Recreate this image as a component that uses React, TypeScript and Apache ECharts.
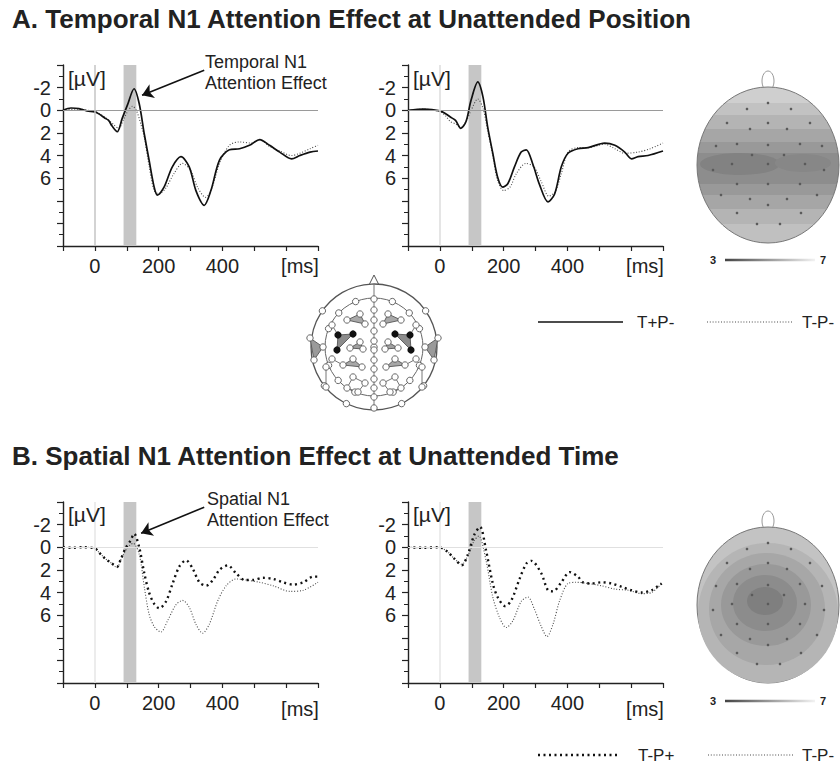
import React, { useEffect, useRef } from "react";
import * as echarts from "echarts";

const FONT = "'Liberation Sans', Arial, Helvetica, sans-serif";

// ---- axes ----
const xMin = -100;
const xMax = 700;
const xStep = 100;
const xLabelsShown = [0, 200, 400];
const yMin = -4;
const yMax = 12;
const yStep = 2;
const yLabelsShown = [-2, 0, 2, 4, 6];
const attnWindow = [90, 130];

const titles = [
  "A. Temporal N1 Attention Effect at Unattended Position",
  "B. Spatial N1 Attention Effect at Unattended Time",
];
const legendA = ["T+P-", "T-P-"];
const legendB = ["T-P+", "T-P-"];
const colorbarLabels = ["3", "7"];

// ---- A left (ms / µV) ----
const aLeftSolidT = [-100, -75, -50, -25, 0, 11, 32, 43, 54, 70, 86, 102, 123, 139, 155, 170, 186, 196, 217, 243, 270, 296, 317, 343, 364, 391, 422, 454, 485, 517, 548, 580, 617, 643, 675, 700];
const aLeftSolidV = [0, -0.2, -0.15, 0.05, 0.15, 0.3, 0.7, 0.9, 1.4, 1.9, 0.7, -0.45, -1.9, -0.6, 2.1, 4.4, 6.8, 7.5, 6.8, 5.0, 4.1, 5.0, 7.1, 8.4, 7.1, 4.4, 3.5, 3.4, 3.1, 2.6, 3.1, 3.7, 4.3, 4.0, 3.7, 3.6];
const aLeftDotT = [-100, -50, 0, 20, 40, 60, 75, 90, 105, 118, 130, 145, 155, 170, 186, 201, 222, 248, 275, 300, 322, 347, 368, 391, 422, 454, 490, 517, 548, 580, 617, 643, 675, 700];
const aLeftDotV = [0, -0.1, 0.15, 0.4, 0.8, 1.3, 1.6, 0.8, 0, -0.35, 0, 1.3, 2.4, 4.9, 7.1, 7.4, 6.9, 5.6, 4.7, 5.3, 6.8, 7.7, 6.8, 4.7, 3.1, 2.8, 2.9, 2.6, 3.2, 3.6, 4.0, 3.8, 3.4, 3.1];

// ---- A middle ----
const aMidSolidT = [-100, -50, 0, 18, 33, 49, 66, 82, 98, 119, 135, 150, 166, 181, 197, 213, 234, 255, 271, 292, 313, 339, 360, 381, 402, 433, 465, 517, 549, 580, 601, 622, 653, 700];
const aMidSolidV = [0, -0.1, 0.05, 0.3, 0.6, 0.9, 1.6, 1.0, -0.9, -2.5, -1.2, 1.5, 3.8, 5.9, 6.8, 6.5, 5.0, 3.7, 3.5, 4.8, 6.6, 8.1, 7.4, 5.0, 3.8, 3.4, 3.3, 2.9, 3.1, 3.7, 4.3, 4.1, 4.0, 3.6];
const aMidDotT = [-100, -50, 0, 18, 33, 49, 66, 82, 98, 119, 135, 150, 166, 181, 200, 220, 240, 270, 295, 318, 342, 362, 381, 402, 433, 465, 517, 549, 580, 622, 660, 700];
const aMidDotV = [0, -0.1, 0.1, 0.5, 1.0, 1.2, 1.5, 1.0, 0, -1.0, -0.2, 1.8, 4.0, 6.2, 7.1, 6.8, 5.6, 4.7, 5.0, 6.3, 7.6, 7.2, 5.6, 3.7, 3.3, 3.3, 3.0, 3.4, 3.8, 3.7, 3.4, 2.9];

// ---- B left ----
const bLeftHeavyT = [-100, -70, -40, 0, 11, 32, 47, 70, 80, 96, 112, 123, 139, 155, 170, 186, 202, 223, 244, 265, 286, 307, 328, 349, 370, 391, 417, 443, 470, 496, 527, 559, 590, 622, 654, 685, 700];
const bLeftHeavyV = [0, 0.05, 0, 0.1, 0.4, 1.0, 1.3, 1.7, 1.15, 0.1, -0.6, -1.2, 0, 2.3, 4.0, 5.0, 5.4, 4.8, 3.2, 1.7, 1.15, 1.9, 3.1, 3.4, 2.9, 2.0, 1.6, 2.3, 2.9, 2.9, 2.7, 2.8, 3.1, 3.3, 3.1, 2.6, 2.6];
const bLeftThinT = [-100, -70, -40, 0, 11, 32, 47, 70, 80, 96, 110, 120, 139, 155, 170, 186, 207, 228, 254, 275, 296, 317, 338, 359, 386, 412, 443, 475, 517, 559, 612, 654, 700];
const bLeftThinV = [0, 0.05, 0, 0.1, 0.4, 1.0, 1.3, 1.8, 1.2, 0.3, -0.2, -0.35, 0.6, 3.5, 5.9, 7.0, 7.5, 6.5, 5.1, 4.7, 5.3, 6.8, 7.6, 6.8, 4.7, 3.4, 2.8, 2.9, 3.1, 3.4, 3.9, 3.8, 3.1];

// ---- B middle ----
const bMidHeavyT = [-100, -50, -3, 24, 45, 69, 87, 108, 126, 145, 166, 181, 205, 224, 250, 271, 287, 318, 339, 355, 381, 407, 433, 449, 475, 507, 538, 570, 601, 633, 664, 696];
const bMidHeavyV = [0, 0.05, 0, 0.4, 1.0, 1.6, 0.7, -1.1, -1.8, 0.3, 3.2, 4.4, 5.2, 4.7, 2.8, 1.45, 1.2, 2.3, 3.8, 3.9, 3.1, 2.2, 2.6, 3.1, 3.2, 3.1, 3.2, 3.5, 3.8, 4.0, 3.8, 3.2];
const bMidThinT = [-100, -50, -3, 24, 45, 69, 87, 108, 122, 145, 166, 187, 208, 229, 255, 276, 297, 318, 336, 355, 376, 402, 428, 465, 507, 549, 591, 633, 664, 696];
const bMidThinV = [0, 0.05, 0, 0.4, 1.0, 1.5, 0.8, -0.6, -1.0, 1.2, 4.4, 6.2, 7.1, 6.5, 4.8, 4.4, 5.5, 7.0, 7.9, 6.8, 4.7, 3.2, 3.1, 3.2, 3.4, 3.7, 3.8, 4.1, 4.0, 3.2];

// ---- layout ----
const grids = [
  { left: 63, top: 65, width: 255, height: 181 },
  { left: 408, top: 65, width: 255, height: 181 },
  { left: 63, top: 502, width: 255, height: 181 },
  { left: 408, top: 502, width: 255, height: 181 },
];

const AXIS_COLOR = "#222";

function xAxisFor(gi: number) {
  return {
    type: "value",
    gridIndex: gi,
    min: xMin,
    max: xMax,
    interval: xStep,
    axisLine: { onZero: false, lineStyle: { color: AXIS_COLOR, width: 1.4 } },
    axisTick: { length: 5, lineStyle: { color: AXIS_COLOR, width: 1.2 } },
    axisLabel: {
      fontSize: 20,
      color: "#222",
      fontFamily: FONT,
      margin: 10,
      formatter: (v: number) => (xLabelsShown.includes(v) ? String(v) : ""),
    },
    splitLine: { show: false },
  };
}

function yAxisFor(gi: number) {
  return {
    type: "value",
    gridIndex: gi,
    inverse: true,
    min: yMin,
    max: yMax,
    interval: yStep,
    axisLine: { onZero: false, lineStyle: { color: AXIS_COLOR, width: 1.4 } },
    axisTick: { length: 6, lineStyle: { color: AXIS_COLOR, width: 1.2 } },
    minorTick: { show: true, splitNumber: 2, length: 4, lineStyle: { color: AXIS_COLOR, width: 1 } },
    axisLabel: {
      fontSize: 20,
      color: "#222",
      fontFamily: FONT,
      margin: 12,
      formatter: (v: number) => (yLabelsShown.includes(v) ? String(v) : ""),
    },
    splitLine: { show: false },
    minorSplitLine: { show: false },
  };
}

const solidStyle = { color: "#111", width: 1.7, type: "solid" };
const thinDotStyle = { color: "#4a4a4a", width: 1.1, type: [1, 1.8] };
const heavyDotStyle = { color: "#111", width: 2.4, type: [2, 3.5] };

function pairs(t: number[], v: number[]) {
  return t.map((x, i) => [x, v[i]]);
}

function lineSeries(name: string, t: number[], v: number[], gi: number, style: any, z: number) {
  return {
    name,
    type: "line",
    xAxisIndex: gi,
    yAxisIndex: gi,
    data: pairs(t, v),
    symbol: "none",
    smooth: 0.3,
    lineStyle: style,
    itemStyle: { color: style.color },
    z,
  };
}

function bgSeries(gi: number, hColor: string, vColor: string) {
  return {
    name: "_bg" + gi,
    type: "line",
    xAxisIndex: gi,
    yAxisIndex: gi,
    data: [],
    z: 1,
    silent: true,
    markArea: {
      silent: true,
      itemStyle: { color: "#c6c6c6" },
      data: [[{ xAxis: attnWindow[0] }, { xAxis: attnWindow[1] }]],
    },
    markLine: {
      silent: true,
      symbol: "none",
      label: { show: false },
      data: [
        { yAxis: 0, lineStyle: { color: hColor, width: 1.2, type: "solid" } },
        { xAxis: 0, lineStyle: { color: vColor, width: 1.5, type: "solid" } },
      ],
    },
  };
}

function arrowSeries(gi: number, from: number[], to: number[]) {
  return {
    name: "_arrow" + gi,
    type: "line",
    xAxisIndex: gi,
    yAxisIndex: gi,
    data: [],
    z: 5,
    silent: true,
    markLine: {
      silent: true,
      symbol: ["none", "arrow"],
      symbolSize: 11,
      label: { show: false },
      lineStyle: { color: "#111", width: 1.6, type: "solid" },
      data: [[{ coord: from }, { coord: to }]],
    },
  };
}

// ---- graphic helpers ----
function txt(text: string, x: number, y: number, size: number, opts: any = {}) {
  const align = opts.align || "left";
  const valign = opts.valign || "middle";
  return {
    type: "text",
    x,
    y,
    silent: true,
    z: 10,
    style: {
      text,
      font: `${opts.weight || "normal"} ${size}px ${FONT}`,
      fill: opts.fill || "#222",
      textAlign: align,
      align,
      textVerticalAlign: valign,
      verticalAlign: valign,
      lineHeight: opts.lh,
    },
  };
}

function legendLine(x1: number, x2: number, y: number, style: any) {
  return {
    type: "line",
    silent: true,
    shape: { x1, y1: y, x2, y2: y },
    style: { stroke: style.color, lineWidth: style.width, lineDash: style.type === "solid" ? null : style.type },
  };
}

const topoDots = [[-21, -56], [0, -62], [23, -56], [-41, -42], [-18, -36], [0, -42], [19, -36], [42, -42], [-52, -19], [-31, -21], [0, -20], [32, -21], [54, -19], [-36, -1], [-16, -10], [0, -1], [16, -10], [37, -1], [-55, 5], [56, 5], [-31, 19], [0, 19], [32, 19], [-47, 30], [-18, 34], [0, 40], [19, 34], [49, 30], [-31, 48], [-11, 59], [12, 59], [33, 48]];

function topoMap(cx: number, cy: number, kind: "A" | "B", barY: number) {
  const els: any[] = [];
  els.push({ type: "ellipse", shape: { cx, cy: cy - 84, rx: 6, ry: 10 }, style: { fill: "#fff", stroke: "#999", lineWidth: 1 }, silent: true });
  if (kind === "A") {
    const stops = [
      [0, "#cfcfcf"], [0.1, "#cfcfcf"], [0.1, "#c2c2c2"], [0.18, "#c2c2c2"], [0.18, "#b4b4b4"], [0.27, "#b4b4b4"],
      [0.27, "#a6a6a6"], [0.35, "#a6a6a6"], [0.35, "#999999"], [0.42, "#999999"], [0.42, "#8d8d8d"], [0.62, "#8d8d8d"],
      [0.62, "#999999"], [0.69, "#999999"], [0.69, "#a6a6a6"], [0.78, "#a6a6a6"], [0.78, "#b4b4b4"], [0.88, "#b4b4b4"],
      [0.88, "#c0c0c0"], [1, "#c0c0c0"],
    ].map(([o, c]) => ({ offset: o as number, color: c as string }));
    els.push({ type: "ellipse", shape: { cx, cy, rx: 71, ry: 78 }, style: { fill: new echarts.graphic.LinearGradient(0, 0, 0, 1, stops), stroke: "#777", lineWidth: 1 }, silent: true });
    els.push({ type: "ellipse", shape: { cx: cx - 28, cy: cy - 1, rx: 40, ry: 11 }, style: { fill: "#828282" }, silent: true });
    els.push({ type: "ellipse", shape: { cx: cx + 35, cy: cy - 2, rx: 28, ry: 9 }, style: { fill: "#878787" }, silent: true });
  } else {
    els.push({ type: "ellipse", shape: { cx, cy, rx: 71, ry: 78 }, style: { fill: "#c3c3c3", stroke: "#777", lineWidth: 1 }, silent: true });
    const rings = [
      [0, 8, 70, 70, "#b5b5b5"],
      [-1, 4, 58, 56, "#a7a7a7"],
      [-2, 0, 45, 41, "#999999"],
      [-3, -2, 32, 28, "#8c8c8c"],
      [-3, -4, 18, 14, "#7f7f7f"],
    ];
    rings.forEach(([dx, dy, rx, ry, c]) => {
      els.push({ type: "ellipse", shape: { cx: cx + (dx as number), cy: cy + (dy as number), rx, ry }, style: { fill: c }, silent: true });
    });
  }
  topoDots.forEach(([dx, dy]) => {
    els.push({ type: "circle", shape: { cx: cx + dx, cy: cy + dy, r: 1.3 }, style: { fill: "#5a5a5a" }, silent: true });
  });
  els.push({
    type: "rect",
    shape: { x: 725, y: barY - 1.2, width: 90, height: 2.4 },
    style: { fill: new echarts.graphic.LinearGradient(0, 0, 1, 0, [{ offset: 0, color: "#444" }, { offset: 1, color: "#f2f2f2" }]) },
    silent: true,
  });
  els.push(txt(colorbarLabels[0], 713, barY, 11, { align: "center", weight: "bold" }));
  els.push(txt(colorbarLabels[1], 823, barY, 11, { align: "center", weight: "bold" }));
  return els;
}

function electrodeHead(cx: number, cy: number) {
  const els: any[] = [];
  const P = (p: number[]) => [cx + p[0], cy + p[1]];
  const mir = (p: number[]) => [-p[0], p[1]];
  els.push({ type: "polygon", shape: { points: [P([-5, -62]), P([0, -72]), P([5, -62])] }, style: { fill: "#fff", stroke: "#555", lineWidth: 1 }, silent: true });
  els.push({ type: "circle", shape: { cx, cy, r: 63 }, style: { fill: "#fff", stroke: "#555", lineWidth: 1.3 }, silent: true });
  els.push({ type: "circle", shape: { cx, cy, r: 49 }, style: { fill: "none", stroke: "#666", lineWidth: 1 }, silent: true });
  els.push({ type: "line", shape: { x1: cx, y1: cy - 63, x2: cx, y2: cy + 63 }, style: { stroke: "#777", lineWidth: 1 }, silent: true });

  const triL = [
    { pts: [[-27, -27], [-14, -33], [-9, -23]], fill: "#a8a8a8" },
    { pts: [[-36, -12], [-21, -13], [-37, 3]], fill: "#8c8c8c" },
    { pts: [[-24, 1], [-14, -5], [-11, 2]], fill: "#a0a0a0" },
    { pts: [[-64, -9], [-51, 0], [-60, 13]], fill: "#9a9a9a" },
    { pts: [[-31, 18], [-21, 12], [-12, 20]], fill: "#a8a8a8" },
  ];
  const linksL = [
    [[-21, 30], [-9, 36], [-16, 45], [-27, 41], [-21, 30]],
    [[-48, 20], [-48, 40]],
    [[-42, -22], [-36, -12]],
    [[-31, 18], [-42, 12]],
  ];
  const whiteL = [[-27, -27], [-14, -33], [-9, -23], [-24, 1], [-14, -5], [-11, 2], [-31, 18], [-21, 12], [-12, 20], [-21, 30], [-9, 36], [-16, 45], [-27, 41], [-64, -9], [-51, 0], [-60, 13], [-48, 20], [-48, 40], [-42, -22], [-42, 12]];
  const blackL = [[-36, -12], [-21, -13], [-37, 3]];
  const outerAng = [55, 128, 154];
  const innerAng = [22, 46, 68, 112, 133, 157];

  [1, -1].forEach((side) => {
    const S = (p: number[]) => (side === 1 ? p : mir(p));
    triL.forEach((t) => {
      els.push({ type: "polygon", shape: { points: t.pts.map((p) => P(S(p))) }, style: { fill: t.fill, stroke: "#555", lineWidth: 0.9 }, silent: true });
    });
    linksL.forEach((l) => {
      els.push({ type: "polyline", shape: { points: l.map((p) => P(S(p))) }, style: { stroke: "#666", lineWidth: 0.9, fill: "none" }, silent: true });
    });
  });
  const white: number[][] = [];
  [0, -48, -37, -27, -16, -6, 3, 13, 22, 32, 41, 50, 61].forEach((dy) => white.push([0, dy]));
  outerAng.forEach((a) => {
    const r = (a * Math.PI) / 180;
    white.push([63 * Math.sin(r), -63 * Math.cos(r)]);
    white.push([-63 * Math.sin(r), -63 * Math.cos(r)]);
  });
  innerAng.forEach((a) => {
    const r = (a * Math.PI) / 180;
    white.push([49 * Math.sin(r), -49 * Math.cos(r)]);
    white.push([-49 * Math.sin(r), -49 * Math.cos(r)]);
  });
  whiteL.forEach((p) => {
    white.push(p);
    white.push(mir(p));
  });
  white.forEach((p) => {
    const q = P(p);
    els.push({ type: "circle", shape: { cx: q[0], cy: q[1], r: 3.2 }, style: { fill: "#fff", stroke: "#555", lineWidth: 0.9 }, silent: true });
  });
  blackL.forEach((p) => {
    [p, mir(p)].forEach((pp) => {
      const q = P(pp);
      els.push({ type: "circle", shape: { cx: q[0], cy: q[1], r: 3.6 }, style: { fill: "#111" }, silent: true });
    });
  });
  return els;
}

function buildOption() {
  const series = [
    bgSeries(0, "#9a9a9a", "#c4c4c4"),
    lineSeries("T-P-", aLeftDotT, aLeftDotV, 0, thinDotStyle, 2),
    lineSeries("T+P-", aLeftSolidT, aLeftSolidV, 0, solidStyle, 3),
    arrowSeries(0, [343, -3.54], [148, -1.33]),
    bgSeries(1, "#9a9a9a", "#dcdcdc"),
    lineSeries("T-P-", aMidDotT, aMidDotV, 1, thinDotStyle, 2),
    lineSeries("T+P-", aMidSolidT, aMidSolidV, 1, solidStyle, 3),
    bgSeries(2, "#e0e0e0", "#e6e6e6"),
    lineSeries("T-P-", bLeftThinT, bLeftThinV, 2, thinDotStyle, 2),
    lineSeries("T-P+", bLeftHeavyT, bLeftHeavyV, 2, heavyDotStyle, 3),
    arrowSeries(2, [343, -3.54], [145, -1.24]),
    bgSeries(3, "#e0e0e0", "#e6e6e6"),
    lineSeries("T-P-", bMidThinT, bMidThinV, 3, thinDotStyle, 2),
    lineSeries("T-P+", bMidHeavyT, bMidHeavyV, 3, heavyDotStyle, 3),
  ];

  const graphic: any[] = [
    txt("[µV]", 68, 78, 21),
    txt("[µV]", 413, 78, 21),
    txt("[µV]", 68, 514, 21),
    txt("[µV]", 413, 514, 21),
    txt("[ms]", 300, 266, 20, { align: "center" }),
    txt("[ms]", 645, 266, 20, { align: "center" }),
    txt("[ms]", 300, 709, 20, { align: "center" }),
    txt("[ms]", 645, 709, 20, { align: "center" }),
    txt("Temporal N1\nAttention Effect", 205, 51, 18, { valign: "top", lh: 21 }),
    txt("Spatial N1\nAttention Effect", 207, 488, 18, { valign: "top", lh: 21 }),
    // legend A
    legendLine(538, 623, 322, solidStyle),
    txt(legendA[0], 637, 322, 17),
    legendLine(707, 793, 322, thinDotStyle),
    txt(legendA[1], 802, 322, 17),
    // legend B
    legendLine(538, 620, 755, heavyDotStyle),
    txt(legendB[0], 638, 755, 17),
    legendLine(708, 793, 755, thinDotStyle),
    txt(legendB[1], 802, 755, 17),
    ...topoMap(768, 165, "A", 260),
    ...topoMap(768, 605, "B", 701),
    ...electrodeHead(374, 347),
  ];

  return {
    animation: false,
    backgroundColor: "#fff",
    title: [
      { text: titles[0], left: 12, top: 6, padding: 0, textStyle: { fontSize: 26, fontWeight: "bold", color: "#222", fontFamily: FONT } },
      { text: titles[1], left: 12, top: 443, padding: 0, textStyle: { fontSize: 26, fontWeight: "bold", color: "#222", fontFamily: FONT } },
    ],
    grid: grids,
    xAxis: grids.map((_, i) => xAxisFor(i)),
    yAxis: grids.map((_, i) => yAxisFor(i)),
    series,
    graphic,
  };
}

export default function App() {
  const ref = useRef<HTMLDivElement>(null);
  useEffect(() => {
    if (!ref.current) return;
    const chart = echarts.init(ref.current, null, { renderer: "svg" });
    chart.setOption(buildOption() as any);
    return () => chart.dispose();
  }, []);
  return (
    <div
      ref={ref}
      style={{ position: "fixed", left: 0, top: 0, width: 840, height: 764, background: "#fff" }}
    />
  );
}
